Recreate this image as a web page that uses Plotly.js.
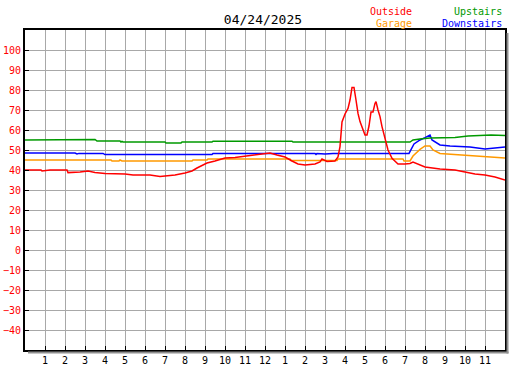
<!DOCTYPE html>
<html>
<head>
<meta charset="utf-8">
<script src="https://cdn.plot.ly/plotly-3.0.1.min.js"></script>
<style>html,body{margin:0;padding:0;background:#fff;}#chart{width:527px;height:370px;}</style>
</head>
<body>
<div id="chart"></div>
<script>
// Hours since midnight and temperatures (°F)
const outsideHours = [0,0.8,0.85,1.25,2.1,2.15,2.75,3.15,3.5,4.0,5.0,5.4,6.25,6.75,7.0,7.5,8.0,8.35,8.6,9.1,9.5,10,10.5,11,11.5,12,12.25,12.6,13,13.35,13.65,14,14.5,14.75,14.85,15.1,15.5,15.65,15.75,15.85,16.0,16.15,16.25,16.35,16.45,16.55,16.65,16.75,16.9,17.0,17.1,17.2,17.3,17.4,17.5,17.55,17.65,17.75,17.85,18,18.15,18.35,18.65,19,19.25,19.4,19.75,20,20.75,21.5,22,22.5,23,23.5,24];
const outsideTemps = [40,40,39.5,40,40,38.7,39,39.5,38.8,38.3,38,37.5,37.5,36.8,37,37.5,38.5,39.5,41,43.5,44.5,46,46.3,47,47.8,48.3,48.5,47.5,46.5,44.5,43,42.5,43,44,45.5,44.3,44.5,46.5,51.7,64,68,70.8,75,81.3,81.3,75,68.3,64.2,60,57.5,57.5,62,69,69,73.3,74.2,70,66.7,61.7,55,50,45.8,43,43,43.3,44,42.5,41.5,40.5,40,39,38,37.5,36.5,35];

const upstairsHours = [0,3.4,3.5,3.6,4.75,4.8,4.85,4.9,7.0,7.05,7.2,7.25,7.8,7.85,9.35,9.4,13.35,13.4,19.25,19.4,19.75,20.25,21.5,22.15,23.3,24];
const upstairsTemps = [55,55,55.3,54.5,54.5,54,54.3,54,54,53.5,53.7,53.5,53.5,54,54,54.4,54.4,54,54,55,55.5,56,56.3,57,57.5,57.2];

const garageHours = [0,4.3,4.35,4.7,4.75,4.85,8.35,8.4,9.1,9.15,13.25,13.3,15.6,15.65,18.9,18.95,19.25,19.4,19.75,20.0,20.25,20.4,20.75,21.75,22.75,23.25,24];
const garageTemps = [45,45,44.5,44.5,45,44.5,44.5,45,45,45.5,45.5,44.8,44.8,45.5,45.5,44.5,44.5,47,50.3,52,52,50,48.3,47.5,46.8,46.5,46];

const downstairsHours = [0,2.5,2.6,2.7,3.9,4.0,9.35,9.4,14.5,14.55,14.6,15.0,15.4,19.2,19.45,19.75,20.0,20.25,20.35,20.75,21.25,22.25,23.0,23.5,24];
const downstairsTemps = [48.5,48.5,48,48.3,48.3,47.7,47.7,48.3,48.3,47.8,48.3,48,48.3,48.3,53,55,56.2,57.5,55,52.5,52,51.5,50.5,51,51.5];

const hourTicks = [1,2,3,4,5,6,7,8,9,10,11,12,13,14,15,16,17,18,19,20,21,22,23];
const hourLabels = ['1','2','3','4','5','6','7','8','9','10','11','12','1','2','3','4','5','6','7','8','9','10','11'];
const tempTicks = [-40,-30,-20,-10,0,10,20,30,40,50,60,70,80,90,100];

const mono = 'DejaVu Sans Mono, monospace';
const mk = (x, y, c) => ({x: x, y: y, type: 'scatter', mode: 'lines', line: {color: c, width: 1.5}, hoverinfo: 'skip'});
const data = [
  mk(garageHours, garageTemps, '#ff9900'),
  mk(downstairsHours, downstairsTemps, '#0000ff'),
  mk(upstairsHours, upstairsTemps, '#009900'),
  mk(outsideHours, outsideTemps, '#ff0000')
];

const layout = {
  width: 527, height: 370,
  margin: {l: 25, r: 22, t: 30, b: 20, pad: 0},
  paper_bgcolor: '#ffffff', plot_bgcolor: '#ffffff',
  showlegend: false,
  title: {text: '04/24/2025', font: {family: mono, size: 13, color: '#000'}, x: 0.499, xanchor: 'center', y: 0.948, yanchor: 'middle', yref: 'container'},
  xaxis: {
    range: [0, 24], tickvals: hourTicks, ticktext: hourLabels,
    showgrid: true, gridcolor: '#a8a8a8', gridwidth: 1,
    showline: true, linecolor: '#000', linewidth: 2, mirror: true,
    ticks: 'inside', ticklen: 4, tickcolor: '#000', tickwidth: 1,
    tickfont: {family: mono, size: 10, color: '#000'}, zeroline: false, fixedrange: true
  },
  yaxis: {
    range: [-50, 110], tickvals: tempTicks,
    showgrid: true, gridcolor: '#a8a8a8', gridwidth: 1,
    showline: true, linecolor: '#000', linewidth: 2, mirror: true,
    ticks: 'inside', ticklen: 4, tickcolor: '#000', tickwidth: 1,
    tickfont: {family: mono, size: 10, color: '#ff0000'}, zeroline: false, fixedrange: true
  },
  shapes: [
    {type: 'line', xref: 'paper', yref: 'paper', x0: 1 + 2.5/480, x1: 1 + 2.5/480, y0: -3.5/320, y1: 1 - 3/320, line: {color: '#909090', width: 2}},
    {type: 'line', xref: 'paper', yref: 'paper', x0: 3/480, x1: 1 + 3.5/480, y0: -2.5/320, y1: -2.5/320, line: {color: '#909090', width: 2}}
  ],
  annotations: [
    {text: 'Outside', xref: 'paper', yref: 'paper', x: 0.8104, y: 1.059, xanchor: 'right', yanchor: 'middle', showarrow: false, font: {family: mono, size: 10, color: '#ff0000'}},
    {text: 'Garage', xref: 'paper', yref: 'paper', x: 0.8104, y: 1.021, xanchor: 'right', yanchor: 'middle', showarrow: false, font: {family: mono, size: 10, color: '#ff9900'}},
    {text: 'Upstairs', xref: 'paper', yref: 'paper', x: 0.998, y: 1.059, xanchor: 'right', yanchor: 'middle', showarrow: false, font: {family: mono, size: 10, color: '#009900'}},
    {text: 'Downstairs', xref: 'paper', yref: 'paper', x: 0.998, y: 1.021, xanchor: 'right', yanchor: 'middle', showarrow: false, font: {family: mono, size: 10, color: '#0000ff'}}
  ]
};

Plotly.newPlot('chart', data, layout, {staticPlot: true, displayModeBar: false});
</script>
</body>
</html>
